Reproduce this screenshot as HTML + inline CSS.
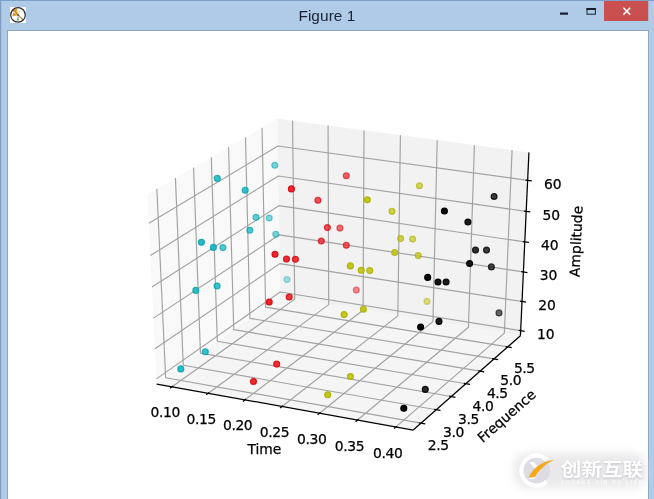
<!DOCTYPE html>
<html><head><meta charset="utf-8"><title>Figure 1</title>
<style>
html,body{margin:0;padding:0;background:#fff;}
body{width:654px;height:499px;overflow:hidden;position:relative;}
svg{display:block;position:absolute;left:0;top:0;}
</style></head><body>
<svg width="654" height="499" viewBox="0 0 654 499">
<defs>
<filter id="b3" x="-20%" y="-40%" width="140%" height="180%"><feGaussianBlur stdDeviation="4"/></filter>
<filter id="b1" x="-20%" y="-40%" width="140%" height="180%"><feGaussianBlur stdDeviation="1.2"/></filter>
</defs>
<rect x="0" y="0" width="654" height="499" fill="#afcbe8"/>
<rect x="0" y="0" width="654" height="1" fill="#7f9fc8"/>
<rect x="0" y="0" width="1.2" height="499" fill="#809cc0"/>
<rect x="7" y="30" width="642" height="470" fill="#8fa6bd"/>
<rect x="8" y="31" width="640" height="468" fill="#ffffff"/>
<!-- app icon -->
<g>
<rect x="10" y="7" width="16" height="16" fill="#ffffff"/>
<path d="M18 15 L12.0 10.6 A7.2 7.2 0 0 1 16.6 8 Z" fill="#e3a030"/>
<path d="M13 9.6 L18 15" stroke="#c98522" stroke-width="1.1" fill="none"/>
<path d="M18 15 L13 12.6 L12.6 16.4 Z" fill="#d99a2b"/>
<path d="M18 15 L16.6 20.8 L19 20.6 Z" fill="#6fb978"/>
<path d="M18 15 L23.6 20.2" stroke="#c98a6c" stroke-width="1.2" fill="none"/>
<path d="M18 15 L20.4 9.4" stroke="#f0d9b0" stroke-width="1" fill="none"/>
<circle cx="18" cy="14.9" r="7.3" fill="none" stroke="#2e2e34" stroke-width="1.25"/>
<circle cx="18" cy="15" r="0.9" fill="#2a5a2a"/>
</g>
<text x="298.4" y="20.6" textLength="57" lengthAdjust="spacing" font-family="'Liberation Sans', sans-serif" font-size="15.4" fill="#1b2236">Figure 1</text>
<!-- window buttons -->
<rect x="560" y="12.5" width="8" height="2.2" fill="#1a1f2e"/>
<rect x="587" y="8.6" width="8.4" height="5.6" fill="none" stroke="#1a1f2e" stroke-width="1"/>
<rect x="586.5" y="8" width="9.4" height="2" fill="#1a1f2e"/>
<rect x="604" y="1" width="44.2" height="20" fill="#c9504f"/>
<path d="M623.4 7.8 L630.2 14.6 M630.2 7.8 L623.4 14.6" stroke="#ffffff" stroke-width="1.5" fill="none"/>
<!-- plot -->
<polygon points="156.72,384.02 280.32,296.82 277.45,118.83 147.40,194.31" fill="#f9f9f9"/>
<polygon points="280.32,296.82 520.44,335.68 528.93,152.39 277.45,118.83" fill="#f2f2f2"/>
<polygon points="156.72,384.02 413.22,430.01 520.44,335.68 280.32,296.82" fill="#f5f5f5"/>
<g stroke-linejoin="round"><polyline points="172.07,386.78 294.73,299.15 292.52,120.84" fill="none" stroke="#a2a2a2" stroke-width="1.15" />
<polyline points="208.29,393.27 328.72,304.66 328.07,125.59" fill="none" stroke="#a2a2a2" stroke-width="1.15" />
<polyline points="244.94,399.84 363.08,310.22 364.03,130.39" fill="none" stroke="#a2a2a2" stroke-width="1.15" />
<polyline points="282.03,406.49 397.82,315.84 400.41,135.24" fill="none" stroke="#a2a2a2" stroke-width="1.15" />
<polyline points="319.56,413.22 432.95,321.52 437.20,140.15" fill="none" stroke="#a2a2a2" stroke-width="1.15" />
<polyline points="357.55,420.03 468.46,327.27 474.42,145.11" fill="none" stroke="#a2a2a2" stroke-width="1.15" />
<polyline points="396.00,426.92 504.37,333.08 512.08,150.14" fill="none" stroke="#a2a2a2" stroke-width="1.15" />
<polyline points="420.99,423.18 165.65,377.72 156.83,188.83" fill="none" stroke="#a2a2a2" stroke-width="1.15" />
<polyline points="436.30,409.71 183.26,365.30 175.41,178.05" fill="none" stroke="#a2a2a2" stroke-width="1.15" />
<polyline points="451.25,396.55 200.47,353.16 193.55,167.52" fill="none" stroke="#a2a2a2" stroke-width="1.15" />
<polyline points="465.86,383.70 217.30,341.28 211.27,157.24" fill="none" stroke="#a2a2a2" stroke-width="1.15" />
<polyline points="480.13,371.14 233.76,329.67 228.58,147.19" fill="none" stroke="#a2a2a2" stroke-width="1.15" />
<polyline points="494.08,358.86 249.86,318.31 245.50,137.38" fill="none" stroke="#a2a2a2" stroke-width="1.15" />
<polyline points="507.72,346.86 265.62,307.19 262.04,127.78" fill="none" stroke="#a2a2a2" stroke-width="1.15" />
<polyline points="156.47,378.86 280.24,291.95 520.67,330.67" fill="none" stroke="#a2a2a2" stroke-width="1.15" />
<polyline points="154.99,348.74 279.78,263.61 522.02,301.53" fill="none" stroke="#a2a2a2" stroke-width="1.15" />
<polyline points="153.48,318.14 279.32,234.85 523.39,271.94" fill="none" stroke="#a2a2a2" stroke-width="1.15" />
<polyline points="151.96,287.05 278.85,205.67 524.79,241.89" fill="none" stroke="#a2a2a2" stroke-width="1.15" />
<polyline points="150.41,255.45 278.37,176.04 526.20,211.37" fill="none" stroke="#a2a2a2" stroke-width="1.15" />
<polyline points="148.83,223.33 277.89,145.98 527.64,180.38" fill="none" stroke="#a2a2a2" stroke-width="1.15" /></g>
<polyline points="156.72,384.02 413.22,430.01" fill="none" stroke="#000" stroke-width="1.25" />
<polyline points="413.22,430.01 520.44,335.68" fill="none" stroke="#000" stroke-width="1.25" />
<polyline points="520.44,335.68 528.93,152.39" fill="none" stroke="#000" stroke-width="1.25" />
<polyline points="169.93,388.30 173.13,386.01" fill="none" stroke="#000" stroke-width="1.25" />
<polyline points="206.19,394.81 209.34,392.50" fill="none" stroke="#000" stroke-width="1.25" />
<polyline points="242.88,401.40 245.97,399.06" fill="none" stroke="#000" stroke-width="1.25" />
<polyline points="280.01,408.07 283.04,405.70" fill="none" stroke="#000" stroke-width="1.25" />
<polyline points="317.59,414.82 320.55,412.42" fill="none" stroke="#000" stroke-width="1.25" />
<polyline points="355.62,421.65 358.52,419.22" fill="none" stroke="#000" stroke-width="1.25" />
<polyline points="394.11,428.56 396.94,426.11" fill="none" stroke="#000" stroke-width="1.25" />
<polyline points="425.25,423.93 418.86,422.80" fill="none" stroke="#000" stroke-width="1.25" />
<polyline points="440.52,410.45 434.19,409.34" fill="none" stroke="#000" stroke-width="1.25" />
<polyline points="455.43,397.27 449.16,396.19" fill="none" stroke="#000" stroke-width="1.25" />
<polyline points="470.00,384.40 463.79,383.34" fill="none" stroke="#000" stroke-width="1.25" />
<polyline points="484.23,371.83 478.08,370.79" fill="none" stroke="#000" stroke-width="1.25" />
<polyline points="498.15,359.54 492.05,358.53" fill="none" stroke="#000" stroke-width="1.25" />
<polyline points="511.75,347.52 505.71,346.53" fill="none" stroke="#000" stroke-width="1.25" />
<polyline points="524.67,331.32 518.67,330.35" fill="none" stroke="#000" stroke-width="1.25" />
<polyline points="526.05,302.16 520.01,301.21" fill="none" stroke="#000" stroke-width="1.25" />
<polyline points="527.45,272.55 521.36,271.63" fill="none" stroke="#000" stroke-width="1.25" />
<polyline points="528.88,242.49 522.74,241.59" fill="none" stroke="#000" stroke-width="1.25" />
<polyline points="530.33,211.96 524.14,211.08" fill="none" stroke="#000" stroke-width="1.25" />
<polyline points="531.80,180.95 525.56,180.09" fill="none" stroke="#000" stroke-width="1.25" />
<g font-family="'DejaVu Sans', 'Liberation Sans', sans-serif" font-size="13.89" fill="#000" stroke="#000" stroke-width="0.25"><text x="165.27" y="417.13" text-anchor="middle" letter-spacing="-0.4">0.10</text>
<text x="201.24" y="423.75" text-anchor="middle" letter-spacing="-0.4">0.15</text>
<text x="237.64" y="430.46" text-anchor="middle" letter-spacing="-0.4">0.20</text>
<text x="274.48" y="437.24" text-anchor="middle" letter-spacing="-0.4">0.25</text>
<text x="311.76" y="444.10" text-anchor="middle" letter-spacing="-0.4">0.30</text>
<text x="349.50" y="451.05" text-anchor="middle" letter-spacing="-0.4">0.35</text>
<text x="387.70" y="458.07" text-anchor="middle" letter-spacing="-0.4">0.40</text>
<text x="438.19" y="450.23" text-anchor="middle" letter-spacing="-0.4">2.5</text>
<text x="453.50" y="436.76" text-anchor="middle" letter-spacing="-0.4">3.0</text>
<text x="468.45" y="423.60" text-anchor="middle" letter-spacing="-0.4">3.5</text>
<text x="483.06" y="410.75" text-anchor="middle" letter-spacing="-0.4">4.0</text>
<text x="497.33" y="398.19" text-anchor="middle" letter-spacing="-0.4">4.5</text>
<text x="510.68" y="384.71" text-anchor="middle" letter-spacing="-0.4">5.0</text>
<text x="524.32" y="372.71" text-anchor="middle" letter-spacing="-0.4">5.5</text>
<text x="545.77" y="338.92" text-anchor="middle">10</text>
<text x="547.12" y="309.78" text-anchor="middle">20</text>
<text x="548.49" y="280.19" text-anchor="middle">30</text>
<text x="549.89" y="250.14" text-anchor="middle">40</text>
<text x="551.30" y="219.62" text-anchor="middle">50</text>
<text x="552.74" y="188.63" text-anchor="middle">60</text>
<text x="264.40" y="454.10" text-anchor="middle">Time</text>
<text x="509.90" y="419.50" text-anchor="middle" transform="rotate(-41.30 509.90 419.50)">Frequence</text>
<text x="581.00" y="241.60" text-anchor="middle" transform="rotate(-87.50 581.00 241.60)">Amplitude</text></g>
<g stroke-width="1.2"><circle cx="217.30" cy="178.40" r="2.95" fill="#14b6c0" stroke="#0fa3ad" fill-opacity="0.84" stroke-opacity="0.84"/>
<circle cx="245.20" cy="190.20" r="2.95" fill="#14b6c0" stroke="#0fa3ad" fill-opacity="0.84" stroke-opacity="0.84"/>
<circle cx="274.80" cy="165.20" r="2.95" fill="#14b6c0" stroke="#0fa3ad" fill-opacity="0.57" stroke-opacity="0.57"/>
<circle cx="256.00" cy="217.30" r="2.95" fill="#14b6c0" stroke="#0fa3ad" fill-opacity="0.66" stroke-opacity="0.66"/>
<circle cx="269.20" cy="218.00" r="2.95" fill="#14b6c0" stroke="#0fa3ad" fill-opacity="0.53" stroke-opacity="0.53"/>
<circle cx="249.80" cy="230.30" r="2.95" fill="#14b6c0" stroke="#0fa3ad" fill-opacity="0.75" stroke-opacity="0.75"/>
<circle cx="275.80" cy="234.20" r="2.95" fill="#14b6c0" stroke="#0fa3ad" fill-opacity="0.57" stroke-opacity="0.57"/>
<circle cx="201.40" cy="242.30" r="2.95" fill="#14b6c0" stroke="#0fa3ad" fill-opacity="0.92" stroke-opacity="0.92"/>
<circle cx="213.40" cy="247.40" r="2.95" fill="#14b6c0" stroke="#0fa3ad" fill-opacity="0.88" stroke-opacity="0.88"/>
<circle cx="222.90" cy="247.60" r="2.95" fill="#14b6c0" stroke="#0fa3ad" fill-opacity="0.75" stroke-opacity="0.75"/>
<circle cx="195.80" cy="290.40" r="2.95" fill="#14b6c0" stroke="#0fa3ad" fill-opacity="0.88" stroke-opacity="0.88"/>
<circle cx="217.10" cy="286.00" r="2.95" fill="#14b6c0" stroke="#0fa3ad" fill-opacity="0.84" stroke-opacity="0.84"/>
<circle cx="287.00" cy="279.60" r="2.95" fill="#14b6c0" stroke="#0fa3ad" fill-opacity="0.38" stroke-opacity="0.38"/>
<circle cx="205.30" cy="351.70" r="2.95" fill="#14b6c0" stroke="#0fa3ad" fill-opacity="0.84" stroke-opacity="0.84"/>
<circle cx="180.80" cy="368.90" r="2.95" fill="#14b6c0" stroke="#0fa3ad" fill-opacity="0.92" stroke-opacity="0.92"/>
<circle cx="291.40" cy="188.90" r="2.95" fill="#f01a20" stroke="#d20f18" fill-opacity="0.96" stroke-opacity="0.96"/>
<circle cx="275.00" cy="254.20" r="2.95" fill="#f01a20" stroke="#d20f18" fill-opacity="0.96" stroke-opacity="0.96"/>
<circle cx="286.50" cy="259.10" r="2.95" fill="#f01a20" stroke="#d20f18" fill-opacity="0.92" stroke-opacity="0.92"/>
<circle cx="295.40" cy="259.30" r="2.95" fill="#f01a20" stroke="#d20f18" fill-opacity="0.88" stroke-opacity="0.88"/>
<circle cx="269.20" cy="302.10" r="2.95" fill="#f01a20" stroke="#d20f18" fill-opacity="0.96" stroke-opacity="0.96"/>
<circle cx="289.20" cy="297.00" r="2.95" fill="#f01a20" stroke="#d20f18" fill-opacity="0.88" stroke-opacity="0.88"/>
<circle cx="276.70" cy="364.10" r="2.95" fill="#f01a20" stroke="#d20f18" fill-opacity="0.92" stroke-opacity="0.92"/>
<circle cx="253.50" cy="381.50" r="2.95" fill="#f01a20" stroke="#d20f18" fill-opacity="0.92" stroke-opacity="0.92"/>
<circle cx="346.30" cy="175.70" r="2.95" fill="#f01a20" stroke="#d20f18" fill-opacity="0.66" stroke-opacity="0.66"/>
<circle cx="317.90" cy="200.20" r="2.95" fill="#f01a20" stroke="#d20f18" fill-opacity="0.75" stroke-opacity="0.75"/>
<circle cx="327.40" cy="227.60" r="2.95" fill="#f01a20" stroke="#d20f18" fill-opacity="0.75" stroke-opacity="0.75"/>
<circle cx="339.90" cy="228.10" r="2.95" fill="#f01a20" stroke="#d20f18" fill-opacity="0.62" stroke-opacity="0.62"/>
<circle cx="321.30" cy="241.00" r="2.95" fill="#f01a20" stroke="#d20f18" fill-opacity="0.75" stroke-opacity="0.75"/>
<circle cx="346.30" cy="245.20" r="2.95" fill="#f01a20" stroke="#d20f18" fill-opacity="0.71" stroke-opacity="0.71"/>
<circle cx="356.30" cy="290.10" r="2.95" fill="#f01a20" stroke="#d20f18" fill-opacity="0.48" stroke-opacity="0.48"/>
<circle cx="367.30" cy="199.70" r="2.95" fill="#bfc20a" stroke="#adb000" fill-opacity="0.92" stroke-opacity="0.92"/>
<circle cx="419.40" cy="185.70" r="2.95" fill="#bfc20a" stroke="#adb000" fill-opacity="0.66" stroke-opacity="0.66"/>
<circle cx="392.00" cy="211.20" r="2.95" fill="#bfc20a" stroke="#adb000" fill-opacity="0.75" stroke-opacity="0.75"/>
<circle cx="400.60" cy="238.60" r="2.95" fill="#bfc20a" stroke="#adb000" fill-opacity="0.71" stroke-opacity="0.71"/>
<circle cx="412.60" cy="239.10" r="2.95" fill="#bfc20a" stroke="#adb000" fill-opacity="0.62" stroke-opacity="0.62"/>
<circle cx="394.70" cy="252.50" r="2.95" fill="#bfc20a" stroke="#adb000" fill-opacity="0.79" stroke-opacity="0.79"/>
<circle cx="418.20" cy="255.60" r="2.95" fill="#bfc20a" stroke="#adb000" fill-opacity="0.71" stroke-opacity="0.71"/>
<circle cx="350.40" cy="265.90" r="2.95" fill="#bfc20a" stroke="#adb000" fill-opacity="0.92" stroke-opacity="0.92"/>
<circle cx="361.20" cy="270.30" r="2.95" fill="#bfc20a" stroke="#adb000" fill-opacity="0.88" stroke-opacity="0.88"/>
<circle cx="369.80" cy="270.60" r="2.95" fill="#bfc20a" stroke="#adb000" fill-opacity="0.84" stroke-opacity="0.84"/>
<circle cx="427.00" cy="301.40" r="2.95" fill="#bfc20a" stroke="#adb000" fill-opacity="0.48" stroke-opacity="0.48"/>
<circle cx="363.40" cy="309.20" r="2.95" fill="#bfc20a" stroke="#adb000" fill-opacity="0.88" stroke-opacity="0.88"/>
<circle cx="344.10" cy="314.60" r="2.95" fill="#bfc20a" stroke="#adb000" fill-opacity="0.92" stroke-opacity="0.92"/>
<circle cx="350.40" cy="376.50" r="2.95" fill="#bfc20a" stroke="#adb000" fill-opacity="0.88" stroke-opacity="0.88"/>
<circle cx="327.70" cy="394.80" r="2.95" fill="#bfc20a" stroke="#adb000" fill-opacity="0.92" stroke-opacity="0.92"/>
<circle cx="444.40" cy="211.00" r="2.95" fill="#0a0a0a" stroke="#000000" fill-opacity="1.0" stroke-opacity="1.0"/>
<circle cx="494.10" cy="196.50" r="2.95" fill="#0a0a0a" stroke="#000000" fill-opacity="0.79" stroke-opacity="0.79"/>
<circle cx="467.90" cy="222.00" r="2.95" fill="#0a0a0a" stroke="#000000" fill-opacity="0.92" stroke-opacity="0.92"/>
<circle cx="475.50" cy="250.10" r="2.95" fill="#0a0a0a" stroke="#000000" fill-opacity="0.84" stroke-opacity="0.84"/>
<circle cx="486.50" cy="250.10" r="2.95" fill="#0a0a0a" stroke="#000000" fill-opacity="0.79" stroke-opacity="0.79"/>
<circle cx="469.60" cy="263.50" r="2.95" fill="#0a0a0a" stroke="#000000" fill-opacity="0.92" stroke-opacity="0.92"/>
<circle cx="491.40" cy="266.90" r="2.95" fill="#0a0a0a" stroke="#000000" fill-opacity="0.75" stroke-opacity="0.75"/>
<circle cx="499.00" cy="312.90" r="2.95" fill="#0a0a0a" stroke="#000000" fill-opacity="0.62" stroke-opacity="0.62"/>
<circle cx="427.70" cy="277.40" r="2.95" fill="#0a0a0a" stroke="#000000" fill-opacity="1.0" stroke-opacity="1.0"/>
<circle cx="438.00" cy="282.00" r="2.95" fill="#0a0a0a" stroke="#000000" fill-opacity="0.96" stroke-opacity="0.96"/>
<circle cx="446.10" cy="282.00" r="2.95" fill="#0a0a0a" stroke="#000000" fill-opacity="0.92" stroke-opacity="0.92"/>
<circle cx="439.00" cy="321.40" r="2.95" fill="#0a0a0a" stroke="#000000" fill-opacity="0.92" stroke-opacity="0.92"/>
<circle cx="420.60" cy="327.10" r="2.95" fill="#0a0a0a" stroke="#000000" fill-opacity="1.0" stroke-opacity="1.0"/>
<circle cx="425.30" cy="389.40" r="2.95" fill="#0a0a0a" stroke="#000000" fill-opacity="0.88" stroke-opacity="0.88"/>
<circle cx="403.80" cy="408.30" r="2.95" fill="#0a0a0a" stroke="#000000" fill-opacity="1.0" stroke-opacity="1.0"/></g>
<!-- watermark -->
<g>
<rect x="514" y="453" width="132" height="35" rx="14" fill="#e6e6e8" filter="url(#b3)" opacity="0.85"/>
<circle cx="536.1" cy="470.6" r="13.8" fill="#dcdce2"/>
<path d="M546.6 459.6 A15 15 0 1 0 546.6 481.6" fill="none" stroke="#ffffff" stroke-width="4.2"/>
<path d="M529 462 L536 470 L529 479 L534 479 L541 470 L534 462 Z" fill="#ffffff" opacity="0.9"/>
<path d="M528.6 477.4 C533 468 541 461.5 554 460 C546 463.5 540 469 535.5 476.6 C533 477.6 531 477.8 528.6 477.4 Z" fill="#f4a81d"/>
<g font-family="'Liberation Sans', 'Noto Sans CJK SC', sans-serif" font-weight="bold" font-size="18.6">
<text x="560.8" y="476.6" fill="#c4c4c8" filter="url(#b1)" textLength="82.4" lengthAdjust="spacingAndGlyphs">创新互联</text>
<text x="560.8" y="476.2" fill="#ffffff" textLength="82.4" lengthAdjust="spacingAndGlyphs">创新互联</text>
</g>
<text x="561" y="484.2" font-family="'Liberation Sans', sans-serif" font-size="4.6" fill="#ffffff" textLength="81" lengthAdjust="spacing">CHUANG XIN HU LIAN</text>
</g>
</svg>
</body></html>
